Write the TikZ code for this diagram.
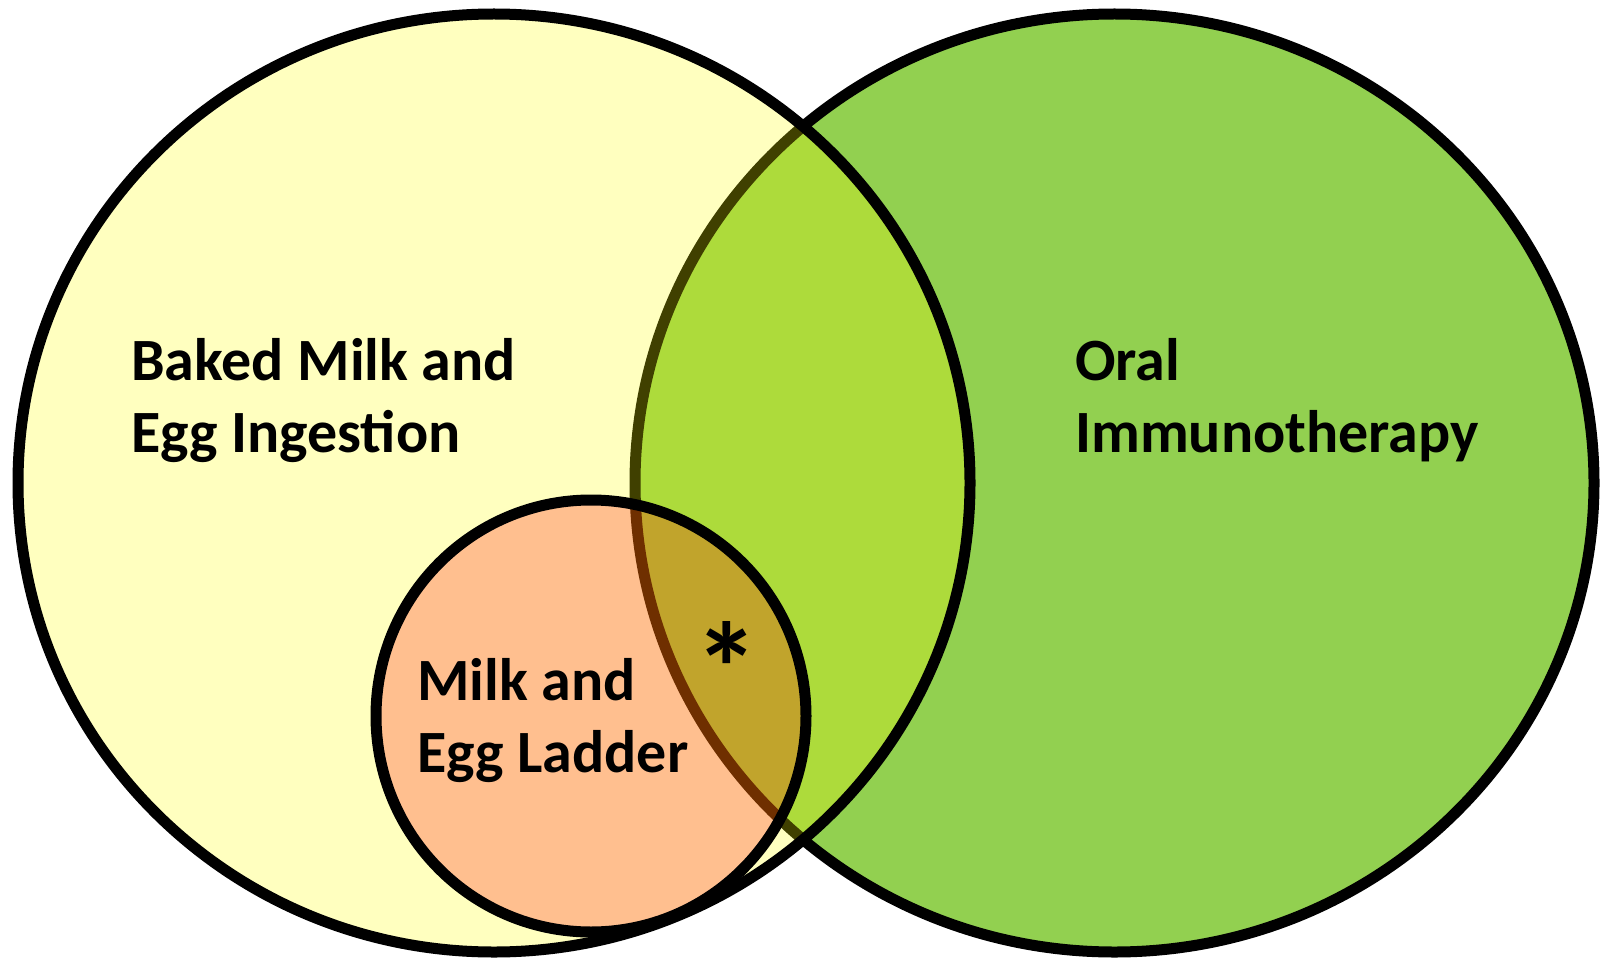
\documentclass[tikz,border=0pt]{standalone}
\usepackage{fontspec}
\setmainfont{Carlito}
\usetikzlibrary{positioning,shapes.geometric}
\definecolor{vnYellow}{HTML}{FFFF00}
\definecolor{vnGreen}{HTML}{92D050}
\definecolor{vnRed}{HTML}{FF0000}

\begin{document}
\begin{tikzpicture}[x=1pt, y=-1pt,
  every node/.style={font=\fontsize{60}{72}\selectfont\bfseries, align=left},
  setring/.style={
    ellipse, draw=black, line width=11pt, inner sep=0pt
  },
  setlabel/.style={anchor=base west, inner sep=0pt}
]
 \useasboundingbox (0,0) rectangle (1606,960);

 % the two big sets
 \node[setring, fill=vnGreen,
   minimum width=959pt, minimum height=938pt]  (oit) at (1114.5,483) {};
 \node[setring, fill=vnYellow, fill opacity=0.25,
   minimum width=952pt, minimum height=938pt]  (baked) at (494,483) {};

 % the small set
 \node[setring, fill=vnRed, fill opacity=0.25,
   minimum width=430pt, minimum height=432pt]  (ladder) at (591,716) {};

 % labels (anchored on the last line)
 \node[setlabel] (bakedtxt)  at (131,452) {Baked Milk and\\Egg Ingestion};
 \node[setlabel] (oittxt)    at (1075,452) {Oral\\Immunotherapy};
 \node[setlabel] (laddertxt) at (417,772) {Milk and\\Egg Ladder};
 \node[setlabel, font=\fontsize{130}{130}\selectfont\bfseries]
   (star) at (694,714) {*};
\end{tikzpicture}
\end{document}
